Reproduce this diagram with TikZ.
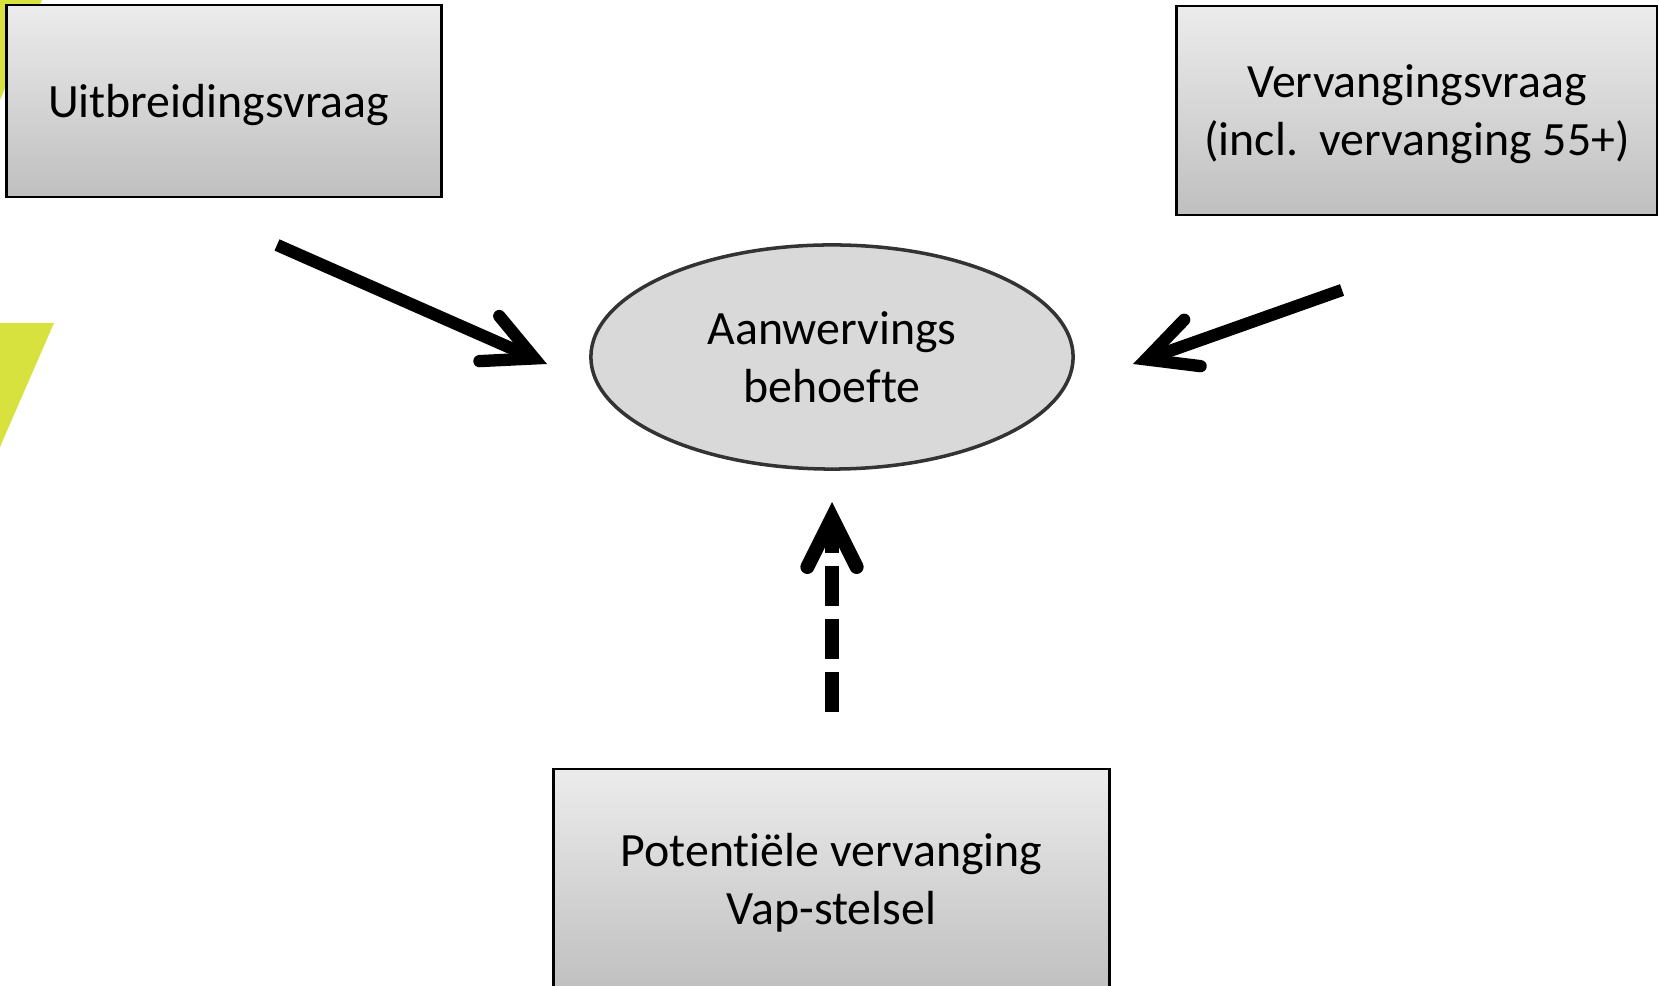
\documentclass[tikz,border=0pt]{standalone}
\usepackage{fontspec}
\setmainfont{Carlito}[Ligatures = NoCommon]
\usetikzlibrary{positioning, shapes.geometric, arrows.meta}

\begin{document}
\begin{tikzpicture}[x = 0.01cm, y = -0.01cm,
    every node/.style = { align = center, inner sep = 0pt, font = \fontsize{13.6}{16.5}\selectfont },
    vak/.style = { draw, line width = 0.8pt, shape = rectangle, top color = gray!15, bottom color = gray!50 },
    ovaal/.style = { draw = black!80, line width = 1pt, shape = ellipse, fill = gray!30 },
    pijl/.style = { line width = 3.5pt, -{Straight Barb[length = 14pt, width = 14pt, line cap = round, line join = miter]} }]
    \useasboundingbox (0, 0) rectangle (1658, 986);

    % gele vlakken links
    \fill[fill = {rgb,255:red,216;green,226;blue,62}] (0, 0) -- (42, 0) -- (0, 100) -- cycle;
    \fill[fill = {rgb,255:red,216;green,226;blue,62}] (0, 323) -- (54, 323) -- (0, 447) -- cycle;

    \node[vak, minimum width = 4.355cm, minimum height = 1.92cm, text depth = 0pt] (uitbr) at (224, 101) { Uitbreidingsvraag };
    \node[vak, minimum width = 4.8cm, minimum height = 2.09cm, text depth = 0pt] (verv) at (1417, 110.5) { Vervangingsvraag\\(incl.\ \ vervanging 55+) };
    \node[vak, minimum width = 5.55cm, minimum height = 2.23cm, text depth = 1pt] (pot) at (831.5, 880.5) { Potentiële vervanging\\Vap-stelsel };
    \node[ovaal, minimum width = 4.82cm, minimum height = 2.24cm] (aanw) at (832, 357) { Aanwervings\\behoefte };

    \coordinate (uitbrStart) at (277, 245);
    \coordinate (uitbrEind) at (547, 364);
    \coordinate (vervStart) at (1342, 290);
    \coordinate (vervEind) at (1133, 364);
    \coordinate (potStart) at (832, 712);
    \coordinate (potEind) at (832, 502);

    \draw[pijl] (uitbrStart) -- (uitbrEind);
    \draw[pijl] (vervStart) -- (vervEind);
    \draw[pijl, line width = 4pt, dash pattern = on 11.4pt off 3.7pt] (potStart) -- (potEind);
\end{tikzpicture}
\end{document}
